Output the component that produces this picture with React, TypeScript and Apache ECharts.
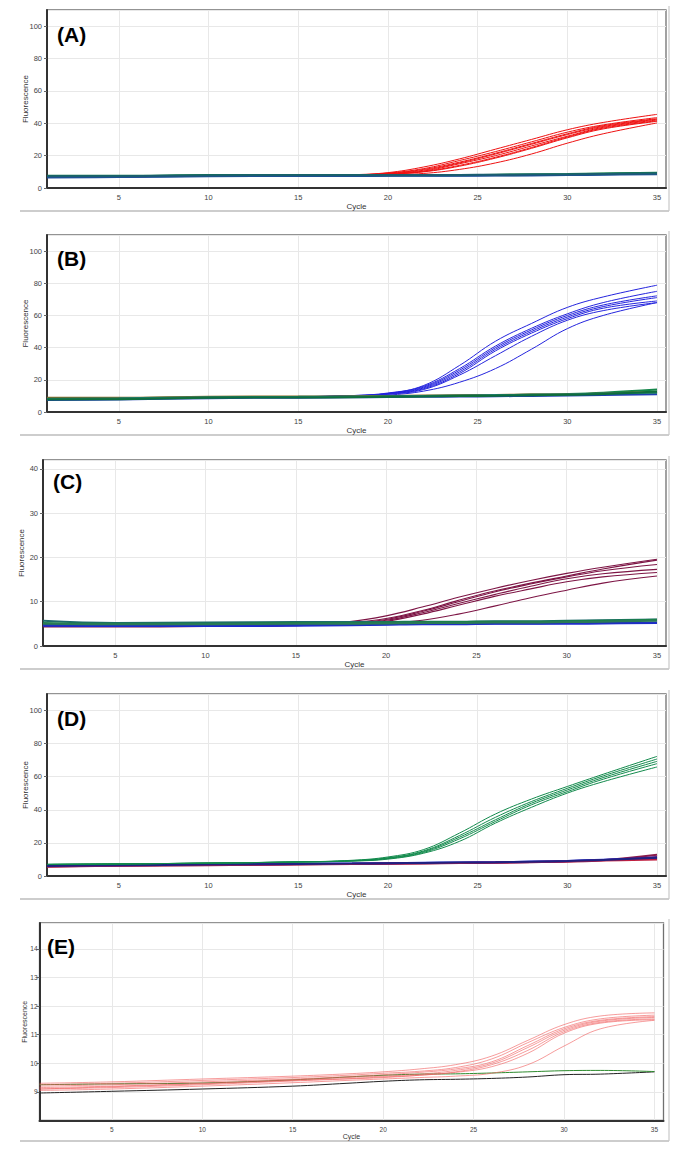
import React, { useEffect, useRef } from "react";
import * as echarts from "echarts";

// ---------- shared ----------
const cycles = [1, 5, 10, 15, 18, 20, 22, 24, 26, 28, 30, 32, 35];
const xTicks = [5, 10, 15, 20, 25, 30, 35];
const panelLabels = ["(A)", "(B)", "(C)", "(D)", "(E)"];
const yMins = [0, 0, 0, 0, 8];
const yMaxs = [110, 110, 42, 110, 14.9];
const yIntervals = [20, 20, 10, 20, 1];

// ---------- panel A ----------
const aAmplified = [
  [7, 7, 7.5, 7.8, 8.2, 9.5, 13, 18, 24, 30, 36, 40.5, 45.5],
  [7, 7, 7.5, 7.8, 8.1, 9.2, 12, 17, 22.5, 28.5, 34.5, 39, 43.5],
  [7, 7, 7.5, 7.8, 8.1, 9, 11.5, 16, 21.5, 27.5, 33.5, 38.5, 42.8],
  [7, 7, 7.5, 7.8, 8, 8.8, 11, 15.5, 21, 27, 33, 38, 42.5],
  [7, 7, 7.5, 7.8, 8, 8.7, 10.5, 15, 20, 26, 32, 37.5, 42],
  [7, 7, 7.5, 7.8, 8, 8.6, 10.2, 14, 19, 25, 31.5, 37, 41.5],
  [7, 7, 7.5, 7.8, 8, 8.5, 10, 13.5, 18.5, 24.5, 31, 36.5, 41.2],
  [7, 7, 7.5, 7.8, 7.9, 8.2, 9, 11.5, 15.5, 21, 27.7, 33.5, 40.2],
];
const aBaseline = [
  [7.5, 7.5, 8, 8, 8, 8, 8, 8, 8.2, 8.4, 8.6, 9, 9.5],
  [7, 7.2, 7.6, 7.8, 7.8, 7.8, 7.9, 8, 8.1, 8.3, 8.5, 8.8, 9.2],
  [6.8, 7, 7.5, 7.6, 7.6, 7.7, 7.8, 7.8, 7.9, 8, 8.2, 8.5, 8.8],
  [6.5, 6.8, 7.2, 7.4, 7.4, 7.5, 7.6, 7.6, 7.7, 7.8, 8, 8.2, 8.5],
  [7.2, 7.3, 7.8, 7.9, 7.9, 8, 8.1, 8.1, 8.2, 8.3, 8.4, 8.7, 9],
];
const aBaselineColors = ["#0f7a45", "#14804c", "#1d6a6a", "#1f4d9c", "#1b5e70"];

// ---------- panel B ----------
const bAmplified = [
  [8, 8.3, 9, 9.5, 10.2, 11.5, 16.5, 29, 44, 55, 65, 71.5, 78.8],
  [8, 8.3, 9, 9.5, 10.2, 11.8, 16, 27, 41, 52, 61, 68, 75],
  [8, 8.3, 9, 9.5, 10.1, 11.5, 15.5, 26, 40, 51, 60, 66.5, 72.2],
  [8, 8.3, 9, 9.5, 10, 11.3, 15, 25, 39, 50, 59, 65.5, 71.1],
  [8, 8.3, 9, 9.5, 10, 11.2, 14.5, 24, 38, 49, 58, 64.5, 69],
  [8, 8.3, 9, 9.5, 10, 11, 14, 23, 35, 47, 57, 63, 68],
  [8, 8.3, 9, 9.5, 9.8, 10.5, 13, 18.5, 27, 39, 51.8, 60, 68],
];
const bBaseline = [
  [8, 8.2, 9, 9.2, 9.4, 9.6, 9.9, 10.2, 10.5, 10.8, 11.2, 12, 14],
  [8.8, 8.8, 9.5, 9.6, 9.8, 10, 10.2, 10.4, 10.6, 10.8, 11, 11.5, 12.5],
  [7.5, 7.8, 8.6, 8.9, 9.1, 9.3, 9.5, 9.6, 9.8, 10, 10.3, 10.6, 11],
  [8.3, 8.5, 9.2, 9.4, 9.6, 9.8, 10, 10.3, 10.5, 10.7, 11, 11.5, 12],
  [7.8, 8, 8.8, 9, 9.2, 9.4, 9.6, 9.9, 10.1, 10.4, 10.7, 11.2, 12.8],
];
const bBaselineColors = ["#15864a", "#8a6a22", "#1f3fb0", "#1d7a6a", "#0f6e3c"];

// ---------- panel C ----------
const cAmplified = [
  [4.5, 4.5, 4.6, 4.8, 5.5, 6.8, 8.8, 11, 13, 14.8, 16.4, 17.8, 19.6],
  [4.4, 4.4, 4.5, 4.7, 5.3, 6.2, 8, 10.3, 12.4, 14.2, 15.8, 17.4, 19.4],
  [4.4, 4.4, 4.5, 4.7, 5.2, 6, 7.8, 10, 12.2, 14, 15.6, 17, 18.4],
  [4.4, 4.4, 4.5, 4.7, 5.1, 5.8, 7.5, 9.6, 11.6, 13.5, 15.2, 16.3, 17.3],
  [4.4, 4.4, 4.5, 4.7, 5, 5.6, 7.2, 9.2, 11.2, 12.9, 14.5, 15.6, 16.6],
  [4.3, 4.3, 4.4, 4.6, 4.8, 5.1, 5.8, 7.2, 9, 10.9, 12.6, 14.2, 15.8],
];
const cBaseline = [
  [5.7, 5.2, 5.3, 5.4, 5.4, 5.4, 5.5, 5.5, 5.6, 5.6, 5.7, 5.8, 6],
  [5.2, 5, 5, 5.2, 5.2, 5.3, 5.4, 5.4, 5.5, 5.5, 5.6, 5.7, 5.9],
  [4.6, 4.5, 4.5, 4.6, 4.7, 4.8, 4.9, 4.9, 5, 5, 5, 5.1, 5.2],
  [4.8, 4.7, 4.7, 4.8, 4.8, 4.9, 5, 5, 5.1, 5.1, 5.2, 5.2, 5.3],
  [5, 4.9, 4.9, 5, 5, 5.1, 5.2, 5.2, 5.3, 5.3, 5.4, 5.5, 5.7],
];
const cBaselineColors = ["#1e6b6b", "#18804a", "#1a2ad0", "#2030c0", "#2a7a55"];

// ---------- panel D ----------
const dAmplified = [
  [7, 7.3, 7.8, 8.5, 9.5, 11.5, 16, 26, 37.5, 46.5, 54.1, 61.5, 72.3],
  [7, 7.3, 7.8, 8.5, 9.3, 11, 15.2, 24.5, 35.5, 45, 53, 60.5, 70.7],
  [7, 7.3, 7.8, 8.5, 9.2, 10.8, 14.8, 23.5, 34, 44, 52, 59.5, 69.3],
  [7, 7.3, 7.8, 8.5, 9.1, 10.5, 14.3, 22.5, 33, 43, 51, 58.5, 67.9],
  [7, 7.3, 7.8, 8.5, 9, 10.2, 13.8, 21, 32, 41.5, 50.1, 57, 65.9],
];
const dBaseline = [
  [5.6, 6.2, 6.5, 7, 7.2, 7.4, 7.6, 7.8, 8, 8.3, 8.7, 9.5, 12.8],
  [6, 6.4, 6.8, 7.2, 7.4, 7.6, 7.8, 8, 8.2, 8.5, 8.9, 9.6, 11.5],
  [6.3, 6.6, 7, 7.4, 7.6, 7.8, 8, 8.2, 8.4, 8.7, 9.1, 9.8, 10.5],
  [5.8, 6.3, 6.6, 7.1, 7.3, 7.5, 7.7, 7.9, 8.1, 8.4, 8.8, 9.3, 10],
  [6.1, 6.5, 6.9, 7.3, 7.5, 7.7, 7.9, 8.1, 8.3, 8.6, 9, 9.7, 11],
];
const dBaselineColors = ["#8b1a4a", "#5a1a8a", "#1a2ad0", "#c02040", "#202080"];

// ---------- panel E ----------
const eAmplified = [
  [9.3, 9.35, 9.45, 9.55, 9.63, 9.7, 9.8, 9.95, 10.25, 10.8, 11.35, 11.65, 11.76],
  [9.25, 9.3, 9.4, 9.5, 9.58, 9.65, 9.72, 9.85, 10.15, 10.72, 11.25, 11.55, 11.68],
  [9.2, 9.25, 9.35, 9.45, 9.53, 9.6, 9.68, 9.8, 10.05, 10.62, 11.2, 11.5, 11.63],
  [9.15, 9.2, 9.3, 9.42, 9.5, 9.55, 9.62, 9.75, 10, 10.55, 11.15, 11.47, 11.6],
  [9.1, 9.15, 9.25, 9.38, 9.45, 9.5, 9.58, 9.7, 9.95, 10.45, 11.1, 11.43, 11.55],
  [9.1, 9.18, 9.28, 9.4, 9.46, 9.52, 9.58, 9.68, 9.88, 10.35, 11.05, 11.4, 11.52],
  [9.05, 9.1, 9.2, 9.32, 9.4, 9.45, 9.5, 9.55, 9.65, 9.95, 10.6, 11.2, 11.5],
];
const eBlack = [8.96, 9.02, 9.1, 9.2, 9.3, 9.37, 9.42, 9.44, 9.47, 9.52, 9.6, 9.62, 9.7];
const eGreen = [9.25, 9.28, 9.31, 9.42, 9.52, 9.58, 9.62, 9.63, 9.66, 9.7, 9.74, 9.75, 9.71];

// ---------- layout ----------
const grids = [
  { left: 47, top: 10, width: 619, height: 178 },
  { left: 47, top: 235, width: 619, height: 177 },
  { left: 43, top: 460, width: 623, height: 186 },
  { left: 47, top: 694, width: 619, height: 182 },
  { left: 39.5, top: 923, width: 624, height: 197.5 },
];
const labelPos = [
  [57, 34],
  [57, 258],
  [53, 481],
  [57, 718],
  [47, 946],
];
const separatorY = [211, 435, 669, 899, 1141];
const FONT = "Liberation Sans, Arial, Helvetica, sans-serif";

const toPairs = (vals: number[]) => cycles.map((c, i) => [c, vals[i]]);

function lineSeries(vals: number[], idx: number, color: string, width: number, z = 2) {
  return {
    type: "line",
    xAxisIndex: idx,
    yAxisIndex: idx,
    data: toPairs(vals),
    showSymbol: false,
    symbol: "none",
    smooth: 0.4,
    silent: true,
    z,
    lineStyle: { color, width },
  };
}

export default function App() {
  const ref = useRef<HTMLDivElement>(null);

  useEffect(() => {
    if (!ref.current) return;
    const chart = echarts.init(ref.current, undefined, { renderer: "svg" });

    const series: any[] = [];
    aAmplified.forEach((v) => series.push(lineSeries(v, 0, "#ee1111", 1, 2)));
    aBaseline.forEach((v, i) => series.push(lineSeries(v, 0, aBaselineColors[i], 2, 3)));

    bAmplified.forEach((v) => series.push(lineSeries(v, 1, "#2424dd", 1, 2)));
    bBaseline.forEach((v, i) => series.push(lineSeries(v, 1, bBaselineColors[i], 2, 3)));

    cAmplified.forEach((v) => series.push(lineSeries(v, 2, "#7d1545", 1.1, 2)));
    cBaseline.forEach((v, i) => series.push(lineSeries(v, 2, cBaselineColors[i], 2, 3)));

    dBaseline.forEach((v, i) => series.push(lineSeries(v, 3, dBaselineColors[i], 2, 2)));
    dAmplified.forEach((v) => series.push(lineSeries(v, 3, "#128a4c", 1, 3)));

    series.push(lineSeries(eBlack, 4, "#222222", 1, 2));
    series.push(lineSeries(eGreen, 4, "#2e8b2e", 1, 2));
    eAmplified.forEach((v) => series.push(lineSeries(v, 4, "rgba(240,90,90,0.6)", 1, 3)));

    const isE = (i: number) => i === 4;

    const xAxis = grids.map((_, i) => ({
      type: "value",
      gridIndex: i,
      min: 1,
      max: 35.5,
      name: "Cycle",
      nameLocation: "middle",
      nameGap: isE(i) ? 12 : 14,
      nameMoveOverlap: false,
      nameTextStyle: { fontSize: isE(i) ? 7 : 8, color: "#333", fontFamily: FONT },
      axisLine: { show: true, onZero: false, lineStyle: { color: "#333", width: 2 } },
      axisTick: { show: false, customValues: xTicks },
      axisLabel: {
        customValues: xTicks,
        fontSize: isE(i) ? 6.5 : 7.5,
        color: "#444",
        margin: 5,
        fontFamily: FONT,
      },
      splitLine: { show: true, lineStyle: { color: "#e8e8e8", width: 1 } },
    }));

    const yAxis = grids.map((_, i) => ({
      type: "value",
      gridIndex: i,
      min: yMins[i],
      max: yMaxs[i],
      interval: yIntervals[i],
      name: "Fluorescence",
      nameLocation: "middle",
      nameGap: isE(i) ? 12 : 18,
      nameMoveOverlap: false,
      nameTextStyle: { fontSize: isE(i) ? 7 : 8, color: "#333", fontFamily: FONT },
      axisLine: { show: true, onZero: false, lineStyle: { color: "#333", width: 2 } },
      axisTick: { show: true, length: 3, lineStyle: { color: "#666", width: 1 } },
      axisLabel: {
        fontSize: isE(i) ? 6.5 : 7.5,
        color: "#444",
        margin: isE(i) ? 2 : 5,
        showMaxLabel: false,
        showMinLabel: !isE(i),
        fontFamily: FONT,
      },
      splitLine: { show: true, lineStyle: { color: "#e8e8e8", width: 1 } },
    }));

    const graphic: any[] = [];
    panelLabels.forEach((t, i) => {
      graphic.push({
        type: "text",
        x: labelPos[i][0],
        y: labelPos[i][1],
        z: 10,
        style: {
          text: t,
          fontSize: 21,
          fontWeight: "bold",
          fontFamily: FONT,
          fill: "#000",
          align: "left",
          verticalAlign: "middle",
        },
      });
    });
    separatorY.forEach((y, i) => {
      const g = grids[i];
      graphic.push({
        type: "line",
        shape: { x1: 20, y1: y, x2: 669, y2: y },
        style: { stroke: "#bdbdbd", lineWidth: 1.5 },
        silent: true,
      });
      graphic.push({
        type: "line",
        shape: { x1: 669, y1: g.top - 4, x2: 669, y2: y },
        style: { stroke: "#c8c8c8", lineWidth: 1.2 },
        silent: true,
      });
    });

    chart.setOption({
      animation: false,
      backgroundColor: "#ffffff",
      textStyle: { fontFamily: FONT },
      grid: grids.map((g) => ({
        ...g,
        show: true,
        borderColor: "#707070",
        borderWidth: 1.3,
        backgroundColor: "transparent",
        containLabel: false,
      })),
      xAxis,
      yAxis,
      series,
      graphic,
    });

    return () => chart.dispose();
  }, []);

  return (
    <div
      ref={ref}
      style={{ position: "absolute", left: 0, top: 0, width: 685, height: 1159 }}
    />
  );
}
